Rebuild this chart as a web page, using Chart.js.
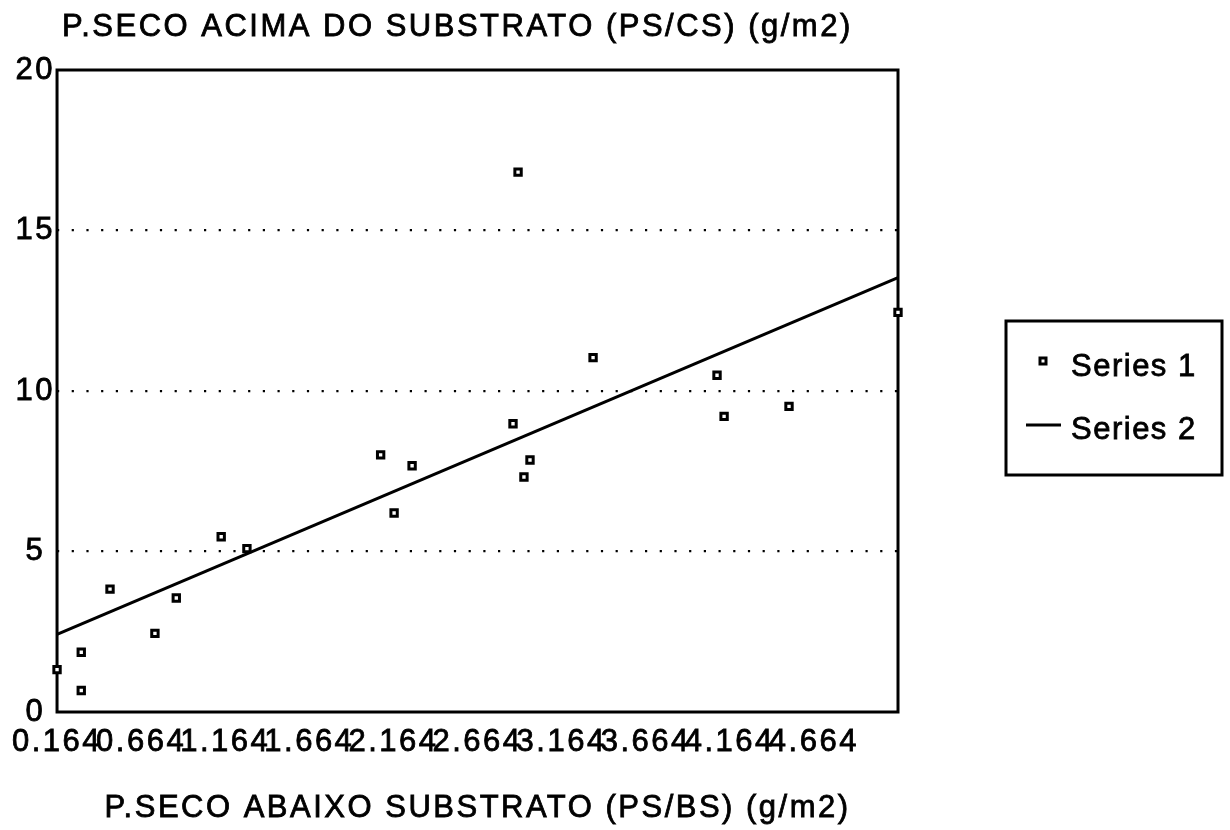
<!DOCTYPE html>
<html>
<head>
<meta charset="utf-8">
<script src="https://cdn.jsdelivr.net/npm/chart.js@4.4.1/dist/chart.umd.min.js"></script>
<style>
  html, body { margin: 0; padding: 0; background: #fff; }
  #wrap { width: 1230px; height: 830px; position: relative; }
</style>
</head>
<body>
<div id="wrap"><canvas id="pesoChart"></canvas></div>
<script>
// dry weight above substrate (y) vs below substrate (x), g/m2
var series1X = [0.164, 0.308, 0.308, 0.479, 0.746, 0.873, 1.140, 1.293, 2.088, 2.168,
                2.275, 2.875, 2.905, 2.940, 2.976, 3.351, 4.088, 4.130, 4.516, 5.164];
var series1Y = [1.32, 1.86, 0.67, 3.83, 2.45, 3.55, 5.46, 5.09, 8.01, 6.20,
                7.67, 8.98, 16.82, 7.32, 7.85, 11.04, 10.49, 9.21, 9.52, 12.45];

// fitted line
var series2X = [0.164, 5.164];
var series2Y = [2.42, 13.53];

var seriesNames = ['Series 1', 'Series 2'];

var xTickValues = [0.164, 0.664, 1.164, 1.664, 2.164, 2.664, 3.164, 3.664, 4.164, 4.664, 5.164];
var xTickLabels = ['0.164', '0.664', '1.164', '1.664', '2.164', '2.664', '3.164', '3.664', '4.164', '4.664'];
var yTickValues = [0, 5, 10, 15, 20];

var yTitle = 'P.SECO ACIMA DO SUBSTRATO (PS/CS) (g/m2)';
var xTitle = 'P.SECO ABAIXO SUBSTRATO (PS/BS) (g/m2)';

var FONT = '"Liberation Sans", Arial, Helvetica, sans-serif';
var FONT_SIZE = 31;
var TRACK = '2.5px';
var INK = 0.8; // extra stroke so the lettering reads heavier

function toPoints(xs, ys) {
  return xs.map(function (x, i) { return { x: x, y: ys[i] }; });
}

function inkText(ctx, text, x, y) {
  ctx.fillText(text, x, y);
  ctx.lineWidth = INK;
  ctx.strokeStyle = '#000';
  ctx.strokeText(text, x, y);
}

// wide tracking on all text
var tracking = {
  id: 'tracking',
  beforeLayout: function (chart) { chart.ctx.letterSpacing = TRACK; },
  beforeDraw: function (chart) { chart.ctx.letterSpacing = TRACK; }
};

// plot frame + axis titles
var frame = {
  id: 'frame',
  beforeDatasetsDraw: function (chart) {
    var a = chart.chartArea, ctx = chart.ctx;
    ctx.save();
    ctx.strokeStyle = '#000';
    ctx.lineWidth = 3;
    ctx.strokeRect(a.left, a.top, a.right - a.left, a.bottom - a.top);
    ctx.restore();
  },
  afterDraw: function (chart) {
    var ctx = chart.ctx, a = chart.chartArea;
    ctx.save();
    ctx.letterSpacing = TRACK;
    ctx.fillStyle = '#000';
    ctx.font = FONT_SIZE + 'px ' + FONT;
    ctx.textBaseline = 'alphabetic';
    ctx.textAlign = 'left';
    inkText(ctx, yTitle, 62, 36);
    ctx.textAlign = 'center';
    inkText(ctx, xTitle, (a.left + a.right) / 2, 817);
    ctx.restore();
  }
};

// boxed legend on the right
var boxLegend = {
  id: 'boxLegend',
  afterDraw: function (chart) {
    var ctx = chart.ctx;
    var bx = 1006, by = 321, bw = 216, bh = 154;
    ctx.save();
    ctx.strokeStyle = '#000';
    ctx.lineWidth = 3;
    ctx.strokeRect(bx, by, bw, bh);

    var ds0 = chart.data.datasets[0];
    var ds1 = chart.data.datasets[1];

    // square marker
    ctx.lineWidth = 3;
    ctx.fillStyle = '#fff';
    ctx.strokeRect(1040, 358, 6, 6);

    // line marker
    ctx.beginPath();
    ctx.moveTo(1026, 425);
    ctx.lineTo(1061, 425);
    ctx.lineWidth = 3;
    ctx.stroke();

    ctx.letterSpacing = '1.5px';
    ctx.fillStyle = '#000';
    ctx.font = FONT_SIZE + 'px ' + FONT;
    ctx.textAlign = 'left';
    ctx.textBaseline = 'middle';
    inkText(ctx, ds0.label, 1071, 367);
    inkText(ctx, ds1.label, 1071, 430);
    ctx.restore();
  }
};

document.addEventListener('DOMContentLoaded', function () {
  var ctx = document.getElementById('pesoChart').getContext('2d');

  new Chart(ctx, {
    type: 'scatter',
    data: {
      datasets: [{
        label: seriesNames[0],
        data: toPoints(series1X, series1Y),
        pointStyle: 'rect',
        pointRadius: 4.5,
        pointBorderWidth: 3,
        borderColor: '#000',
        backgroundColor: '#fff',
        clip: false
      }, {
        label: seriesNames[1],
        type: 'line',
        data: toPoints(series2X, series2Y),
        borderColor: '#000',
        borderWidth: 3,
        pointRadius: 0,
        fill: false
      }]
    },
    options: {
      responsive: true,
      maintainAspectRatio: false,
      animation: false,
      layout: { padding: { left: 0, top: 70, right: 332, bottom: 0 } },
      plugins: {
        legend: { display: false },
        tooltip: { enabled: false }
      },
      scales: {
        x: {
          type: 'linear',
          min: xTickValues[0],
          max: xTickValues[xTickValues.length - 1],
          afterBuildTicks: function (scale) {
            scale.ticks = xTickValues.map(function (v) { return { value: v }; });
          },
          afterFit: function (scale) { scale.height = 118; },
          grid: { display: false, drawTicks: false },
          border: { display: false },
          ticks: {
            autoSkip: false,
            maxRotation: 0,
            minRotation: 0,
            padding: 12,
            color: '#000',
            textStrokeColor: '#000',
            textStrokeWidth: INK,
            font: { family: FONT, size: FONT_SIZE },
            callback: function (value, index) { return xTickLabels[index] || ''; }
          }
        },
        y: {
          min: 0,
          max: 20,
          afterBuildTicks: function (scale) {
            scale.ticks = yTickValues.map(function (v) { return { value: v }; });
          },
          afterFit: function (scale) { scale.width = 57; },
          grid: {
            drawTicks: false,
            lineWidth: 2.2,
            color: function (c) {
              var v = c.tick ? c.tick.value : 0;
              return (v === 0 || v === 20) ? 'rgba(0,0,0,0)' : '#000';
            }
          },
          border: { display: false, dash: [2.2, 12.5] },
          ticks: {
            crossAlign: 'center',
            padding: 2,
            color: '#000',
            textStrokeColor: '#000',
            textStrokeWidth: INK,
            font: { family: FONT, size: FONT_SIZE }
          }
        }
      }
    },
    plugins: [tracking, frame, boxLegend]
  });
});
</script>
</body>
</html>
